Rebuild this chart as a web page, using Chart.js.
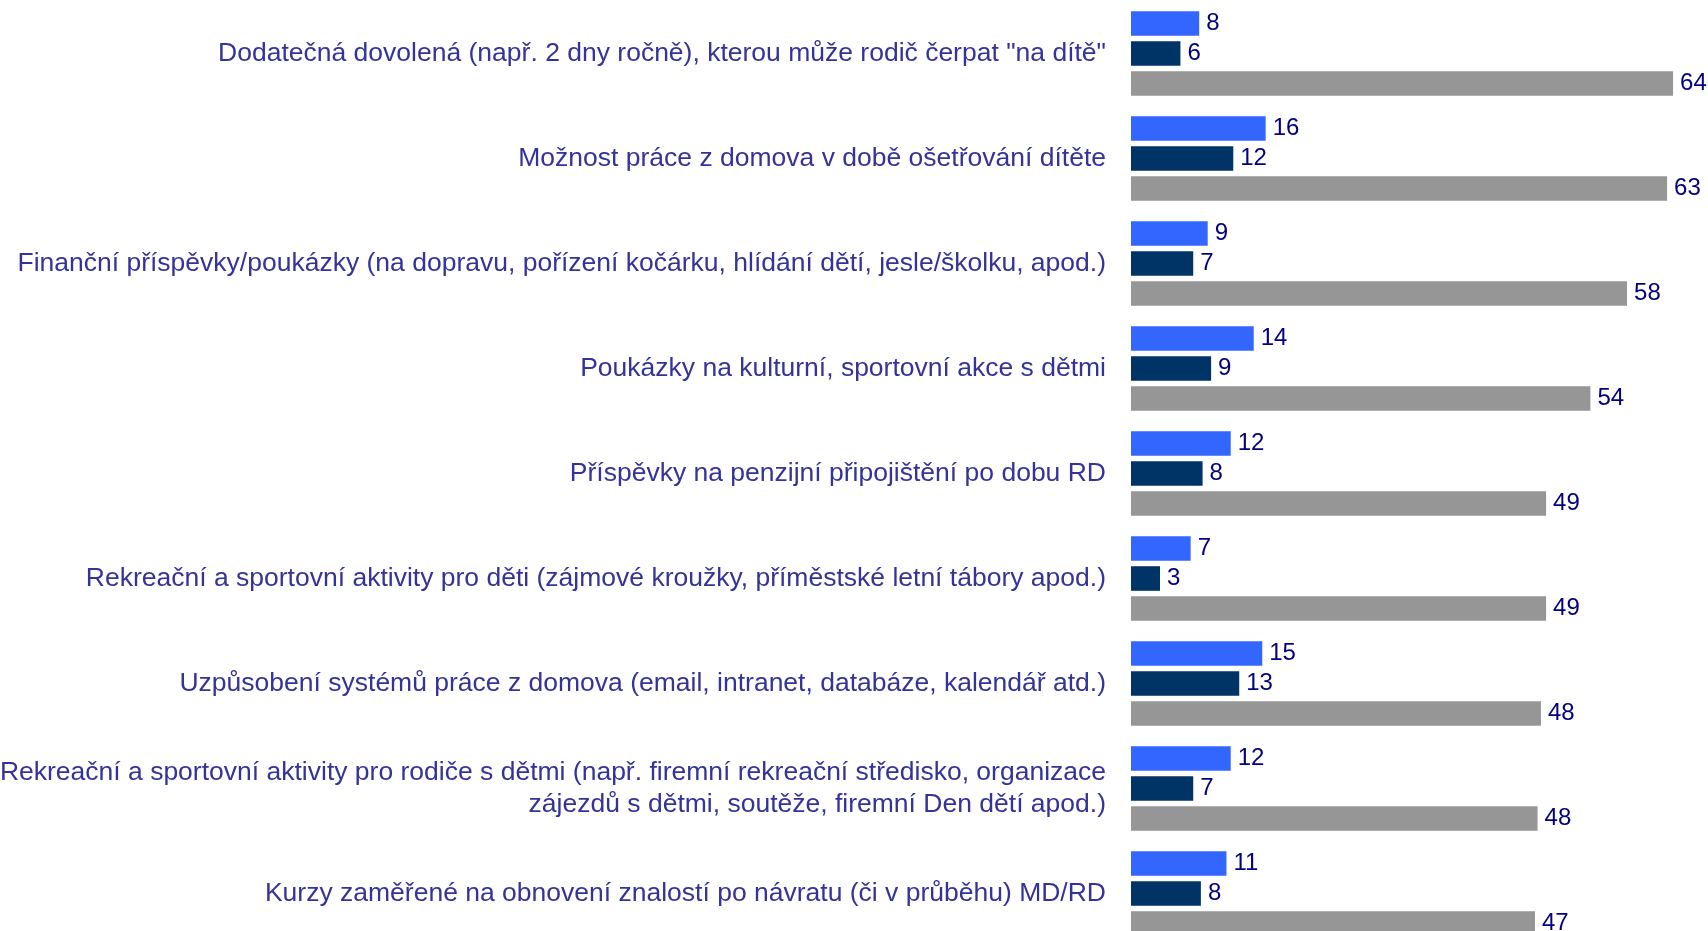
<!DOCTYPE html>
<html>
<head>
<meta charset="utf-8">
<title>Benefity pro rodiče</title>
<script src="https://cdn.jsdelivr.net/npm/chart.js@4/dist/chart.umd.min.js"></script>
<style>
	html, body { margin: 0; padding: 0; background: #fff; overflow: hidden; }
	#benefit-bar-chart { display: block; }
</style>
</head>
<body>
<canvas id="benefit-bar-chart" width="1708" height="946"></canvas>
<script>
// popisky kategorii (osa Y)
var categories = [
	"Dodatečná dovolená (např. 2 dny ročně), kterou může rodič čerpat \"na dítě\"",
	"Možnost práce z domova v době ošetřování dítěte",
	"Finanční příspěvky/poukázky (na dopravu, pořízení kočárku, hlídání dětí, jesle/školku, apod.)",
	"Poukázky na kulturní, sportovní akce s dětmi",
	"Příspěvky na penzijní připojištění po dobu RD",
	"Rekreační a sportovní aktivity pro děti (zájmové kroužky, příměstské letní tábory apod.)",
	"Uzpůsobení systémů práce z domova (email, intranet, databáze, kalendář atd.)",
	["Rekreační a sportovní aktivity pro rodiče s dětmi (např. firemní rekreační středisko, organizace", "zájezdů s dětmi, soutěže, firemní Den dětí apod.)"],
	"Kurzy zaměřené na obnovení znalostí po návratu (či v průběhu) MD/RD"
];

// hodnoty serii (%), popisky se zaokrouhluji na cela cisla
var seriesBlue = [8.0, 15.8, 9.0, 14.4, 11.7, 7.0, 15.4, 11.7, 11.2];
var seriesNavy = [5.8, 12.0, 7.3, 9.4, 8.4, 3.4, 12.7, 7.3, 8.2];
var seriesGrey = [63.6, 62.9, 58.2, 53.9, 48.7, 48.7, 48.1, 47.7, 47.4];

var xMax = 67.7;

var COLOR_BLUE = "#3366FF";
var COLOR_NAVY = "#003366";
var COLOR_GREY = "#969696";
var COLOR_LABEL = "#333399";
var COLOR_VALUE = "#000080";
var FONT_FAMILY = "'Liberation Sans', Arial, sans-serif";

// vypise hodnotu za koncem kazdeho sloupce
var valueLabels = {
	id: "valueLabels",
	afterDatasetsDraw: function (chart) {
		var ctx = chart.ctx;
		ctx.save();
		ctx.font = "24px " + FONT_FAMILY;
		ctx.fillStyle = COLOR_VALUE;
		ctx.textAlign = "left";
		ctx.textBaseline = "middle";
		chart.data.datasets.forEach(function (ds, i) {
			var meta = chart.getDatasetMeta(i);
			meta.data.forEach(function (bar, j) {
				ctx.fillText(Math.round(ds.data[j]), bar.x + 7, bar.y);
			});
		});
		ctx.restore();
	}
};

var handleBenefitChart = function () {
	var ctx = document.getElementById("benefit-bar-chart").getContext("2d");

	var datany = {
		labels: categories,
		datasets: [
			{
				label: "Série 1",
				data: seriesBlue,
				backgroundColor: COLOR_BLUE,
			},
			{
				label: "Série 2",
				data: seriesNavy,
				backgroundColor: COLOR_NAVY,
			},
			{
				label: "Série 3",
				data: seriesGrey,
				backgroundColor: COLOR_GREY,
			},
		],
	};

	var myChart = new Chart(ctx, {
		type: "bar",
		data: datany,
		plugins: [valueLabels],
		options: {
			indexAxis: "y",
			responsive: false,
			animation: false,
			devicePixelRatio: 1,
			layout: {
				padding: { top: 1, right: 0, bottom: 0, left: 0 },
			},
			datasets: {
				bar: {
					categoryPercentage: 0.857,
					barPercentage: 0.82,
				},
			},
			plugins: {
				legend: { display: false },
				tooltip: { enabled: false },
				title: { display: false },
			},
			scales: {
				x: {
					display: false,
					min: 0,
					max: xMax,
				},
				y: {
					grid: { display: false, drawTicks: false },
					border: { display: false },
					ticks: {
						color: COLOR_LABEL,
						padding: 25,
						font: { family: FONT_FAMILY, size: 26.5, lineHeight: 1.2 },
					},
					afterFit: function (scale) {
						scale.width = 1131;
						scale.paddingTop = 0;
						scale.paddingBottom = 0;
					},
				},
			},
		},
	});

	return myChart;
};

handleBenefitChart();
</script>
</body>
</html>
